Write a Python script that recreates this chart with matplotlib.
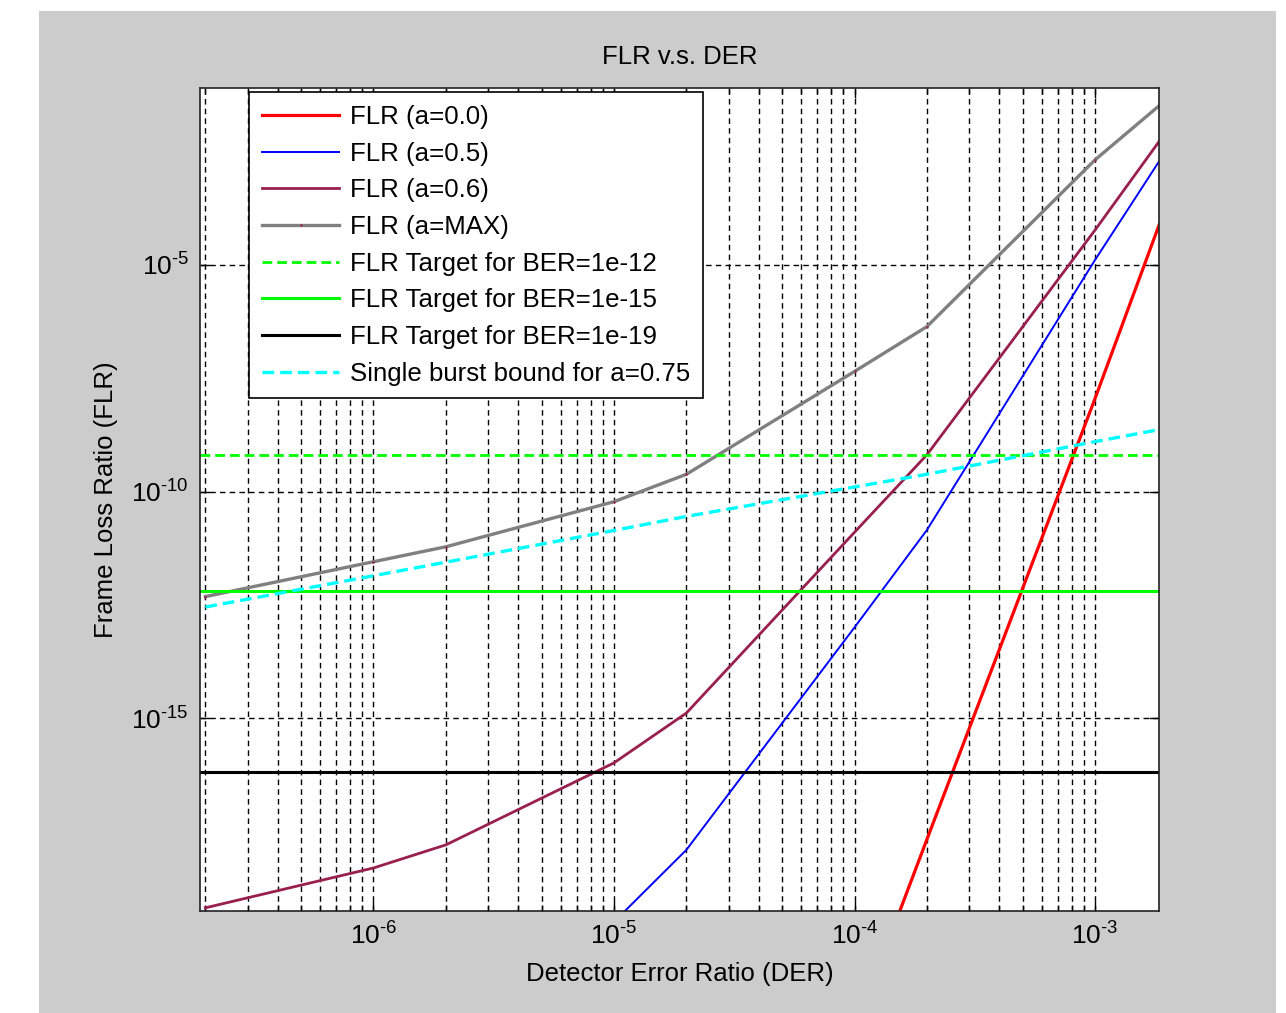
import numpy as np
import matplotlib
matplotlib.use("Agg")
import matplotlib.pyplot as plt
from matplotlib.patches import Rectangle
from matplotlib.ticker import LogLocator, NullLocator, FixedLocator

plt.rcParams['font.family'] = ['Liberation Sans', 'DejaVu Sans']
plt.rcParams['mathtext.fontset'] = 'custom'
plt.rcParams['mathtext.rm'] = 'Liberation Sans'
plt.rcParams['mathtext.it'] = 'Liberation Sans'

# detector error ratio sample points
der = [2e-7, 1e-6, 2e-6, 1e-5, 2e-5, 1e-4, 2e-4, 1e-3, 2e-3]

# log10(FLR) (nan = not visible)
flr_a00 = [np.nan, np.nan, np.nan, np.nan, np.nan, -21.9, -17.68, -7.95, -3.62]
flr_a05 = [np.nan, np.nan, np.nan, -19.5, -17.91, -13.0, -10.85, -4.89, -2.43]
flr_a06 = [-19.19, -18.31, -17.80, -15.99, -14.89, -10.9, -9.19, -4.23, -2.02]
flr_max = [-12.32, -11.55, -11.22, -10.225, -9.62, -7.35, -6.36, -2.68, -1.33]
burst_a075 = [-12.55, -11.86, -11.56, -10.86, -10.55, -9.9, -9.62, -8.9, -8.6]

# FLR targets
target_1e12 = 6.4e-10
target_1e15 = 6.4e-13
target_1e19 = 6.4e-17

fig = plt.figure(figsize=(12.86, 10.13), dpi=100, facecolor='white')
fig.patches.append(Rectangle((39 / 1286, 0), (1276 - 39) / 1286, 1002 / 1013,
                             transform=fig.transFigure, facecolor='#cccccc',
                             edgecolor='none', zorder=-10))
ax = fig.add_axes([200 / 1286, 102 / 1013, 959 / 1286, 823 / 1013])
ax.set_facecolor('white')

x = np.array(der)
purple = '#99204d'
ax.plot(x, 10 ** np.array(flr_a00), color='#ff0000', lw=2.3, label='FLR (a=0.0)')
ax.plot(x, 10 ** np.array(flr_a05), color='#0000ff', lw=1.4, label='FLR (a=0.5)')
ax.plot(x, 10 ** np.array(flr_a06), color=purple, lw=2.0, label='FLR (a=0.6)')
ax.plot(x, 10 ** np.array(flr_max), color='#808080', lw=2.4, marker='.',
        markersize=1.5, markerfacecolor=purple, markeredgecolor=purple,
        label='FLR (a=MAX)')
ax.axhline(target_1e12, color='#00ff00', lw=2.0, ls=(0, (3.5, 1.8)),
           label='FLR Target for BER=1e-12')
ax.axhline(target_1e15, color='#00ff00', lw=2.2, label='FLR Target for BER=1e-15')
ax.axhline(target_1e19, color='black', lw=2.2, label='FLR Target for BER=1e-19')
ax.plot(x, 10 ** np.array(burst_a075), color='#00ffff', lw=2.4, ls=(0, (3.5, 1.8)),
        label='Single burst bound for a=0.75')

ax.set_xscale('log')
ax.set_yscale('log')
ax.set_xlim(10 ** -6.7214, 10 ** -2.7339)
ax.set_ylim(10 ** -19.26, 10 ** -1.093)


def pow_label(v, pos):
    return r'$10^{\text{%d}}$' % round(np.log10(v))


ax.xaxis.set_major_locator(FixedLocator([1e-6, 1e-5, 1e-4, 1e-3]))
ax.xaxis.set_minor_locator(LogLocator(base=10, subs=np.arange(2, 10), numticks=20))
ax.yaxis.set_major_locator(FixedLocator([1e-15, 1e-10, 1e-5]))
ax.yaxis.set_minor_locator(NullLocator())
ax.xaxis.set_major_formatter(plt.FuncFormatter(pow_label))
ax.yaxis.set_major_formatter(plt.FuncFormatter(pow_label))

ax.tick_params(which='both', direction='in', top=True, right=True, width=1.0,
               labelsize=19, colors='black')
ax.tick_params(which='major', length=7)
ax.tick_params(which='minor', length=4)
ax.tick_params(axis='x', pad=8)
ax.tick_params(axis='y', pad=8)

ax.grid(True, which='major', axis='both', color='black', lw=1.0, ls=(0, (4, 3)))
ax.grid(True, which='minor', axis='x', color='black', lw=1.0, ls=(0, (4, 3)))
ax.set_axisbelow(True)
for s in ax.spines.values():
    s.set_linewidth(1.2)
    s.set_color('#222222')

ax.set_title('FLR v.s. DER', fontsize=18.5, pad=17)
ax.set_xlabel('Detector Error Ratio (DER)', fontsize=18.5, va='top')
ax.xaxis.set_label_coords(0.5, -0.062)
ax.set_ylabel('Frame Loss Ratio (FLR)', fontsize=18.5)
ax.yaxis.set_label_coords(-0.0855, 0.5)

leg = ax.legend(loc='upper left', bbox_to_anchor=(0.0511, 0.9951), borderaxespad=0,
                fontsize=18.6, handlelength=3.0, handletextpad=0.4, labelspacing=0.49,
                borderpad=0.5, fancybox=False, framealpha=1, edgecolor='black')
leg.get_frame().set_linewidth(1.2)

fig.savefig('out.png', dpi=100, facecolor=fig.get_facecolor())
